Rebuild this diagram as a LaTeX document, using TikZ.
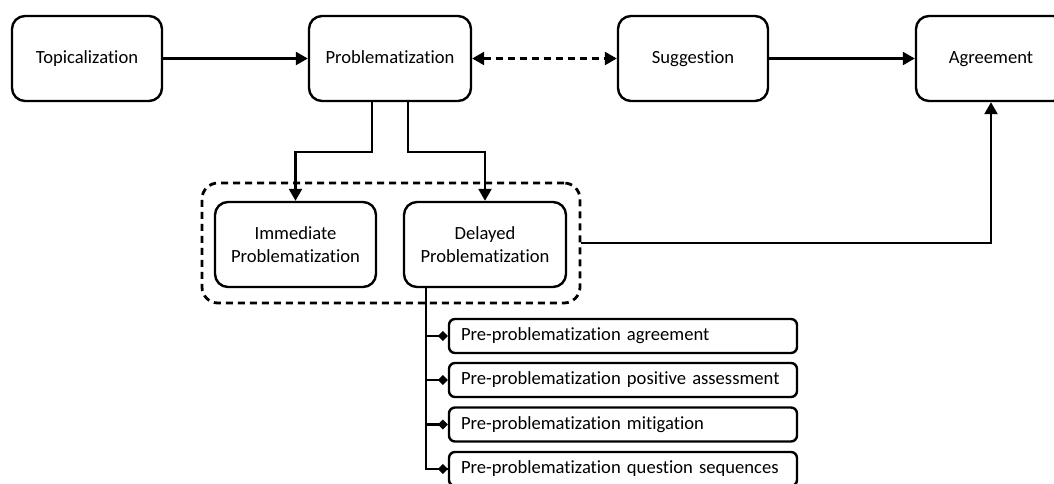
\documentclass[tikz,border=0pt]{standalone}
\usepackage{fontspec}
\setmainfont{Carlito}[Ligatures=NoCommon]
\usetikzlibrary{arrows.meta,calc}
\begin{document}
\begin{tikzpicture}[x=1pt,y=-1pt,
  box/.style={draw,line width=2.4pt,rounded corners=13pt,minimum width=150pt,minimum height=85pt,align=center,font=\fontsize{18.6}{22.5}\selectfont,inner sep=0pt},
  one/.style={text height=13pt,text depth=4pt},
  itembox/.style={draw,line width=2.4pt,rounded corners=6pt,minimum width=348pt,minimum height=34pt,text width=324pt,align=left,font=\fontsize{18.6}{22}\selectfont,inner sep=0pt,text height=13pt,text depth=4pt},
  arr/.style={line width=2.4pt,-{Triangle[length=12pt,width=13pt]}},
  darr/.style={line width=2.4pt,dash pattern=on 7pt off 5pt,{Triangle[length=12pt,width=13pt]}-{Triangle[length=12pt,width=13pt]}},
  dia/.style={line width=2.4pt,-{Diamond[length=10pt,width=10pt]}},
  grpbox/.style={draw,line width=2.8pt,dash pattern=on 7pt off 5pt,rounded corners=16pt}
]
\useasboundingbox (0,0) rectangle (1054,483);
\clip (0,0) rectangle (1054,483);
\node[box,one] (top) at (87,58.5) {Topicalization};
\node[box,one,minimum width=162pt] (prob) at (390,58.5) {Problematization};
\node[box,one] (sug) at (693,58.5) {Suggestion};
\node[box,one] (agr) at (991,58.5) {Agreement};
\node[box,minimum width=161pt] (imm) at (295.5,244.5) {Immediate\\Problematization};
\node[box,minimum width=162pt] (del) at (485,244.5) {Delayed\\Problematization};
\node[grpbox,minimum width=378pt,minimum height=120pt] (grp) at (391,243) {};
\node[itembox] (it1) at (623,336) {Pre-problematization agreement};
\node[itembox] (it2) at (623,380) {Pre-problematization positive assessment};
\node[itembox] (it3) at (623,424.5) {Pre-problematization mitigation};
\node[itembox] (it4) at (623,469) {Pre-problematization question sequences};
\draw[arr] (top) -- (prob);
\draw[darr] (prob) -- (sug);
\draw[arr] (sug) -- (agr);
\draw[arr] ([xshift=-18pt]prob.south) -- ++(0pt,-50pt) -| (imm.north);
\draw[arr] ([xshift=18pt]prob.south) -- ++(0pt,-50pt) -| (del.north);
\draw[arr] (grp.east) -| (agr.south);
\draw[line width=2.4pt] ([xshift=23pt]del.south west) |- (it4.west);
\draw[dia] ([xshift=23pt]del.south west) |- (it1.west);
\draw[dia] ([xshift=23pt]del.south west) |- (it2.west);
\draw[dia] ([xshift=23pt]del.south west) |- (it3.west);
\draw[dia] ([xshift=23pt]del.south west) |- (it4.west);
\end{tikzpicture}
\end{document}
